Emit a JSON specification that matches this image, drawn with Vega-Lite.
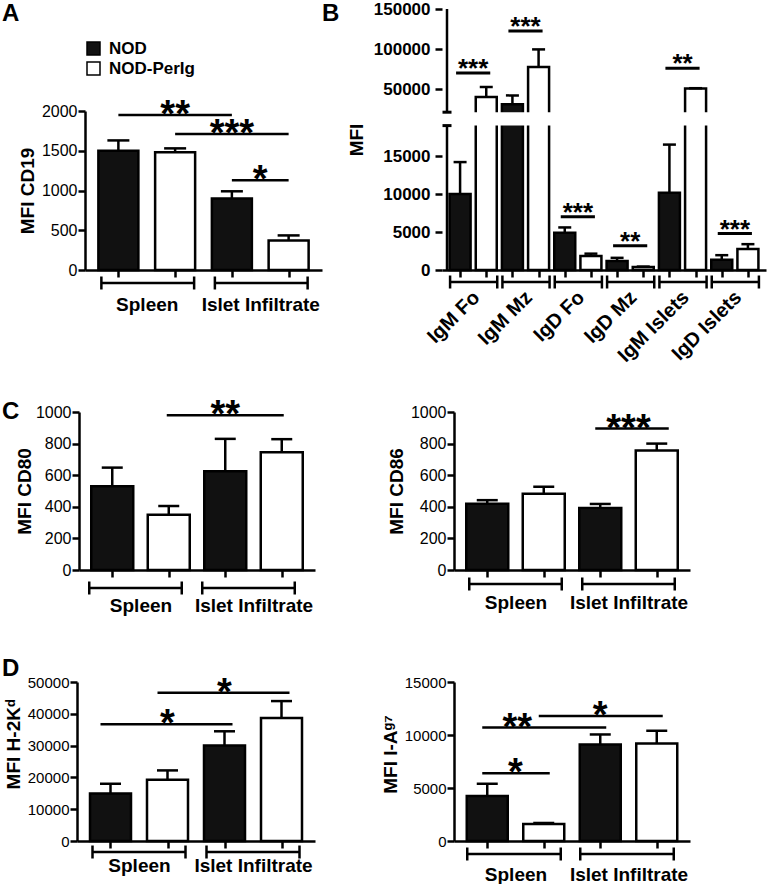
{
  "$schema": "https://vega.github.io/schema/vega-lite/v6.json",
  "background": "white",
  "padding": {"left": 2, "top": 0, "right": 0, "bottom": 0},
  "config": {
    "font": "Liberation Sans",
    "view": {"stroke": null},
    "axis": {"domainColor": "black", "domainWidth": 2.5, "tickColor": "black", "tickWidth": 2.5, "tickSize": 7, "labelColor": "black", "labelFontSize": 16, "labelPadding": 1, "titleColor": "black", "titleFontSize": 19, "titleFontWeight": "bold", "titlePadding": 4, "grid": false, "labelOverlap": false, "labelBound": false, "labelFlush": false},
    "title": {"fontSize": 24, "fontWeight": "bold", "anchor": "start", "frame": "group", "color": "black", "offset": 0}
  },
  "datasets": {
    "a": [
      {"pos": 1, "group": "Spleen", "strain": "NOD", "mfi": 1500, "err": 1630},
      {"pos": 2, "group": "Spleen", "strain": "NOD-PerIg", "mfi": 1480, "err": 1530},
      {"pos": 3, "group": "Islet Infiltrate", "strain": "NOD", "mfi": 900, "err": 990},
      {"pos": 4, "group": "Islet Infiltrate", "strain": "NOD-PerIg", "mfi": 370, "err": 435}
    ],
    "aSig": [
      {"from": 1, "to": 3, "y": 1950, "stars": "**"},
      {"from": 2, "to": 4, "y": 1710, "stars": "***"},
      {"from": 3, "to": 4, "y": 1130, "stars": "*"}
    ],
    "b": [
      {"pos": 1, "group": "IgM Fo", "strain": "NOD", "mfi": 10000, "err": 14200},
      {"pos": 2, "group": "IgM Fo", "strain": "NOD-PerIg", "mfi": 40000, "err": 52500},
      {"pos": 3, "group": "IgM Mz", "strain": "NOD", "mfi": 30800, "err": 42000},
      {"pos": 4, "group": "IgM Mz", "strain": "NOD-PerIg", "mfi": 77500, "err": 99500},
      {"pos": 5, "group": "IgD Fo", "strain": "NOD", "mfi": 4900, "err": 5600},
      {"pos": 6, "group": "IgD Fo", "strain": "NOD-PerIg", "mfi": 1850, "err": 2150},
      {"pos": 7, "group": "IgD Mz", "strain": "NOD", "mfi": 1200, "err": 1600},
      {"pos": 8, "group": "IgD Mz", "strain": "NOD-PerIg", "mfi": 380, "err": 450},
      {"pos": 9, "group": "IgM Islets", "strain": "NOD", "mfi": 10150, "err": 16500},
      {"pos": 10, "group": "IgM Islets", "strain": "NOD-PerIg", "mfi": 50500, "err": 51000},
      {"pos": 11, "group": "IgD Islets", "strain": "NOD", "mfi": 1350, "err": 1950},
      {"pos": 12, "group": "IgD Islets", "strain": "NOD-PerIg", "mfi": 2750, "err": 3400}
    ],
    "bSig": [
      {"from": 1, "to": 2, "y": 70000, "stars": "***"},
      {"from": 3, "to": 4, "y": 122500, "stars": "***"},
      {"from": 5, "to": 6, "y": 7000, "stars": "***"},
      {"from": 7, "to": 8, "y": 3200, "stars": "**"},
      {"from": 9, "to": 10, "y": 76000, "stars": "**"},
      {"from": 11, "to": 12, "y": 4800, "stars": "***"}
    ],
    "c80": [
      {"pos": 1, "group": "Spleen", "strain": "NOD", "mfi": 530, "err": 648},
      {"pos": 2, "group": "Spleen", "strain": "NOD-PerIg", "mfi": 350, "err": 405},
      {"pos": 3, "group": "Islet Infiltrate", "strain": "NOD", "mfi": 625, "err": 830},
      {"pos": 4, "group": "Islet Infiltrate", "strain": "NOD-PerIg", "mfi": 745, "err": 828}
    ],
    "c80Sig": [{"from": 2, "to": 4, "y": 979, "stars": "**"}],
    "c86": [
      {"pos": 1, "group": "Spleen", "strain": "NOD", "mfi": 420, "err": 442},
      {"pos": 2, "group": "Spleen", "strain": "NOD-PerIg", "mfi": 483, "err": 527},
      {"pos": 3, "group": "Islet Infiltrate", "strain": "NOD", "mfi": 393, "err": 418},
      {"pos": 4, "group": "Islet Infiltrate", "strain": "NOD-PerIg", "mfi": 757, "err": 800}
    ],
    "c86Sig": [{"from": 3, "to": 4, "y": 895, "stars": "***"}],
    "d2k": [
      {"pos": 1, "group": "Spleen", "strain": "NOD", "mfi": 14900, "err": 18000},
      {"pos": 2, "group": "Spleen", "strain": "NOD-PerIg", "mfi": 19300, "err": 22200},
      {"pos": 3, "group": "Islet Infiltrate", "strain": "NOD", "mfi": 30000, "err": 34500},
      {"pos": 4, "group": "Islet Infiltrate", "strain": "NOD-PerIg", "mfi": 38700, "err": 44000}
    ],
    "d2kSig": [
      {"from": 1, "to": 3, "y": 36700, "stars": "*"},
      {"from": 2, "to": 4, "y": 46600, "stars": "*"}
    ],
    "dia": [
      {"pos": 1, "group": "Spleen", "strain": "NOD", "mfi": 4250, "err": 5400},
      {"pos": 2, "group": "Spleen", "strain": "NOD-PerIg", "mfi": 1600, "err": 1700},
      {"pos": 3, "group": "Islet Infiltrate", "strain": "NOD", "mfi": 9100, "err": 10050},
      {"pos": 4, "group": "Islet Infiltrate", "strain": "NOD-PerIg", "mfi": 9200, "err": 10400}
    ],
    "diaSig": [
      {"from": 1, "to": 2, "y": 6400, "stars": "*"},
      {"from": 1, "to": 3, "y": 10700, "stars": "**"},
      {"from": 2, "to": 4, "y": 11800, "stars": "*"}
    ]
  },
  "resolve": {"scale": {"fill": "independent"}, "legend": {"fill": "independent"}},
  "bounds": "flush",
  "columns": 2,
  "spacing": {"row": 112, "column": 132},
  "concat": [
    {
      "width": 245, "height": 261,
      "title": {"text": "A", "dx": -75, "dy": 21},
      "data": {"name": "a"},
      "layer": [
        {
          "mark": {"type": "bar", "orient": "vertical", "width": 40, "stroke": "black", "strokeWidth": 2.5},
          "encoding": {
            "x": {"field": "pos", "type": "quantitative", "scale": {"domain": [0.5, 4.5], "range": [8, 245], "nice": false, "zero": false},
              "axis": {"values": [1, 1.5, 2, 3, 3.5, 4], "tickCount": 50, "title": null, "labelExpr": "datum.value == 1.5 ? 'Spleen' : (datum.value == 3.5 ? 'Islet Infiltrate' : '')", "tickOpacity": {"condition": {"test": "datum.value % 1 != 0", "value": 0}, "value": 1}, "labelFontSize": 19, "labelFontWeight": "bold", "labelPadding": 18}},
            "y": {"field": "mfi", "type": "quantitative", "scale": {"domain": [0, 2000], "range": [261, 102], "nice": false}, "axis": {"values": [0, 500, 1000, 1500, 2000], "tickCount": 50, "format": "d", "title": "MFI CD19", "offset": -8}},
            "fill": {"field": "strain", "type": "nominal", "scale": {"domain": ["NOD", "NOD-PerIg"], "range": ["#111111", "#ffffff"]},
              "legend": {"orient": "none", "legendX": 8, "legendY": 31, "title": null, "symbolType": "square", "symbolSize": 169, "symbolStrokeColor": "black", "symbolStrokeWidth": 1.5, "labelFontSize": 17, "labelFontWeight": "bold", "labelColor": "black", "labelOffset": 7, "rowPadding": 1, "direction": "vertical"}}
          }
        },
        {"mark": {"type": "rule", "strokeWidth": 2.5, "color": "black"}, "encoding": {"x": {"field": "pos", "type": "quantitative"}, "y": {"field": "mfi", "type": "quantitative"}, "y2": {"field": "err"}}},
        {"mark": {"type": "tick", "orient": "horizontal", "size": 22, "thickness": 2.5, "color": "black", "opacity": 1}, "encoding": {"x": {"field": "pos", "type": "quantitative"}, "y": {"field": "err", "type": "quantitative"}}},
        {"mark": {"type": "rule", "strokeWidth": 2.5, "color": "black", "xOffset": -17, "x2Offset": 19, "yOffset": 13}, "encoding": {"x": {"field": "pos", "aggregate": "min", "type": "quantitative"}, "x2": {"field": "pos", "aggregate": "max"}, "y": {"datum": 0}, "detail": {"field": "group"}}},
        {"mark": {"type": "tick", "orient": "vertical", "size": 13, "thickness": 2.5, "color": "black", "opacity": 1, "xOffset": -17, "yOffset": 13}, "encoding": {"x": {"field": "pos", "aggregate": "min", "type": "quantitative"}, "y": {"datum": 0}, "detail": {"field": "group"}}},
        {"mark": {"type": "tick", "orient": "vertical", "size": 13, "thickness": 2.5, "color": "black", "opacity": 1, "xOffset": 19, "yOffset": 13}, "encoding": {"x": {"field": "pos", "aggregate": "max", "type": "quantitative"}, "y": {"datum": 0}, "detail": {"field": "group"}}},
        {"data": {"name": "aSig"}, "mark": {"type": "rule", "strokeWidth": 2.5, "color": "black"}, "encoding": {"x": {"field": "from", "type": "quantitative"}, "x2": {"field": "to"}, "y": {"field": "y", "type": "quantitative"}}},
        {"data": {"name": "aSig"}, "transform": [{"fold": ["from", "to"]}], "mark": {"type": "text", "fontSize": 38, "fontWeight": "bold", "baseline": "alphabetic", "dy": 12, "color": "black"}, "encoding": {"x": {"field": "value", "aggregate": "mean", "type": "quantitative"}, "y": {"field": "y", "type": "quantitative"}, "text": {"field": "stars"}}}
      ]
    },
    {
      "width": 313, "height": 261,
      "title": {"text": "B", "dx": -132, "dy": 30},
      "data": {"name": "b"},
      "layer": [
        {
          "mark": {"type": "bar", "orient": "vertical", "width": 21, "stroke": "black", "strokeWidth": 2.5},
          "encoding": {
            "x": {"field": "pos", "type": "quantitative", "scale": {"domain": [0.5, 12.5], "range": [-12, 312], "nice": false, "zero": false},
              "axis": {"values": [1, 1.5, 2, 3, 3.5, 4, 5, 5.5, 6, 7, 7.5, 8, 9, 9.5, 10, 11, 11.5, 12], "tickCount": 50, "title": null, "labelExpr": "datum.value % 1 == 0 ? '' : ['IgM Fo','IgM Mz','IgD Fo','IgD Mz','IgM Islets','IgD Islets'][floor(datum.value / 2)]", "tickOpacity": {"condition": {"test": "datum.value % 1 != 0", "value": 0}, "value": 1}, "labelAngle": -45, "labelAlign": "right", "labelBaseline": "middle", "labelFontSize": 20, "labelFontWeight": "bold", "labelPadding": 17, "labelOffset": 3}},
            "y": {"field": "mfi", "type": "quantitative", "scale": {"domain": [0, 19000, 21000, 150000], "range": [261, 116.6, 103.2, 0], "nice": false, "zero": false}, "axis": {"values": [0, 5000, 10000, 15000, 50000, 100000, 150000], "tickCount": 50, "format": "d", "title": "MFI", "domain": false, "offset": 12, "labelFontSize": 17, "labelFontWeight": "bold", "labelPadding": 5, "titlePadding": 7}},
            "fill": {"field": "strain", "type": "nominal", "scale": {"domain": ["NOD", "NOD-PerIg"], "range": ["#111111", "#ffffff"]}, "legend": null}
          }
        },
        {"mark": {"type": "rule", "strokeWidth": 2.5, "color": "black"}, "encoding": {"x": {"field": "pos", "type": "quantitative"}, "y": {"field": "mfi", "type": "quantitative"}, "y2": {"field": "err"}}},
        {"mark": {"type": "tick", "orient": "horizontal", "size": 13, "thickness": 2.5, "color": "black", "opacity": 1}, "encoding": {"x": {"field": "pos", "type": "quantitative"}, "y": {"field": "err", "type": "quantitative"}}},
        {"data": {"values": [{}]}, "mark": {"type": "rect", "fill": "white"}, "encoding": {"x": {"datum": 0.3}, "x2": {"datum": 12.6}, "y": {"datum": 19000}, "y2": {"datum": 21000}}},
        {"data": {"values": [{}]}, "mark": {"type": "rule", "strokeWidth": 2.5, "color": "black"}, "encoding": {"x": {"datum": 0.5}, "y": {"datum": 0}, "y2": {"datum": 19000}}},
        {"data": {"values": [{}]}, "mark": {"type": "rule", "strokeWidth": 2.5, "color": "black"}, "encoding": {"x": {"datum": 0.5}, "y": {"datum": 21000}, "y2": {"datum": 150000}}},
        {"data": {"values": [{}]}, "mark": {"type": "tick", "orient": "horizontal", "size": 9, "thickness": 3, "color": "black", "opacity": 1}, "encoding": {"x": {"datum": 0.5}, "y": {"datum": 19000}}},
        {"data": {"values": [{}]}, "mark": {"type": "tick", "orient": "horizontal", "size": 9, "thickness": 3, "color": "black", "opacity": 1}, "encoding": {"x": {"datum": 0.5}, "y": {"datum": 21000}}},
        {"mark": {"type": "rule", "strokeWidth": 2.5, "color": "black", "xOffset": -10, "x2Offset": 11, "yOffset": 12}, "encoding": {"x": {"field": "pos", "aggregate": "min", "type": "quantitative"}, "x2": {"field": "pos", "aggregate": "max"}, "y": {"datum": 0}, "detail": {"field": "group"}}},
        {"mark": {"type": "tick", "orient": "vertical", "size": 13, "thickness": 2.5, "color": "black", "opacity": 1, "xOffset": -10, "yOffset": 12}, "encoding": {"x": {"field": "pos", "aggregate": "min", "type": "quantitative"}, "y": {"datum": 0}, "detail": {"field": "group"}}},
        {"mark": {"type": "tick", "orient": "vertical", "size": 13, "thickness": 2.5, "color": "black", "opacity": 1, "xOffset": 11, "yOffset": 12}, "encoding": {"x": {"field": "pos", "aggregate": "max", "type": "quantitative"}, "y": {"datum": 0}, "detail": {"field": "group"}}},
        {"data": {"name": "bSig"}, "mark": {"type": "rule", "strokeWidth": 3, "color": "black", "xOffset": -4, "x2Offset": 4}, "encoding": {"x": {"field": "from", "type": "quantitative"}, "x2": {"field": "to"}, "y": {"field": "y", "type": "quantitative"}}},
        {"data": {"name": "bSig"}, "transform": [{"fold": ["from", "to"]}], "mark": {"type": "text", "fontSize": 26, "fontWeight": "bold", "baseline": "alphabetic", "dy": 4, "color": "black"}, "encoding": {"x": {"field": "value", "aggregate": "mean", "type": "quantitative"}, "y": {"field": "y", "type": "quantitative"}, "text": {"field": "stars"}}}
      ]
    },
    {
      "width": 238, "height": 188,
      "title": {"text": "C", "dx": -75, "dy": 46},
      "data": {"name": "c80"},
      "layer": [
        {
          "mark": {"type": "bar", "orient": "vertical", "width": 42, "stroke": "black", "strokeWidth": 2.5},
          "encoding": {
            "x": {"field": "pos", "type": "quantitative", "scale": {"domain": [0.5, 4.5], "range": [2, 238], "nice": false, "zero": false},
              "axis": {"values": [1, 1.5, 2, 3, 3.5, 4], "tickCount": 50, "title": null, "labelExpr": "datum.value == 1.5 ? 'Spleen' : (datum.value == 3.5 ? 'Islet Infiltrate' : '')", "tickOpacity": {"condition": {"test": "datum.value % 1 != 0", "value": 0}, "value": 1}, "labelFontSize": 19, "labelFontWeight": "bold", "labelPadding": 19}},
            "y": {"field": "mfi", "type": "quantitative", "scale": {"domain": [0, 1000], "range": [188, 30], "nice": false}, "axis": {"values": [0, 200, 400, 600, 800, 1000], "tickCount": 50, "format": "d", "title": "MFI CD80", "titlePadding": 1, "offset": -2}},
            "fill": {"field": "strain", "type": "nominal", "scale": {"domain": ["NOD", "NOD-PerIg"], "range": ["#111111", "#ffffff"]}, "legend": null}
          }
        },
        {"mark": {"type": "rule", "strokeWidth": 2.5, "color": "black"}, "encoding": {"x": {"field": "pos", "type": "quantitative"}, "y": {"field": "mfi", "type": "quantitative"}, "y2": {"field": "err"}}},
        {"mark": {"type": "tick", "orient": "horizontal", "size": 21, "thickness": 2.5, "color": "black", "opacity": 1}, "encoding": {"x": {"field": "pos", "type": "quantitative"}, "y": {"field": "err", "type": "quantitative"}}},
        {"mark": {"type": "rule", "strokeWidth": 2.5, "color": "black", "xOffset": -23, "x2Offset": 13, "yOffset": 18}, "encoding": {"x": {"field": "pos", "aggregate": "min", "type": "quantitative"}, "x2": {"field": "pos", "aggregate": "max"}, "y": {"datum": 0}, "detail": {"field": "group"}}},
        {"mark": {"type": "tick", "orient": "vertical", "size": 13, "thickness": 2.5, "color": "black", "opacity": 1, "xOffset": -23, "yOffset": 18}, "encoding": {"x": {"field": "pos", "aggregate": "min", "type": "quantitative"}, "y": {"datum": 0}, "detail": {"field": "group"}}},
        {"mark": {"type": "tick", "orient": "vertical", "size": 13, "thickness": 2.5, "color": "black", "opacity": 1, "xOffset": 13, "yOffset": 18}, "encoding": {"x": {"field": "pos", "aggregate": "max", "type": "quantitative"}, "y": {"datum": 0}, "detail": {"field": "group"}}},
        {"data": {"name": "c80Sig"}, "mark": {"type": "rule", "strokeWidth": 2.5, "color": "black", "xOffset": -2, "x2Offset": 2}, "encoding": {"x": {"field": "from", "type": "quantitative"}, "x2": {"field": "to"}, "y": {"field": "y", "type": "quantitative"}}},
        {"data": {"name": "c80Sig"}, "transform": [{"fold": ["from", "to"]}], "mark": {"type": "text", "fontSize": 38, "fontWeight": "bold", "baseline": "alphabetic", "dy": 12, "color": "black"}, "encoding": {"x": {"field": "value", "aggregate": "mean", "type": "quantitative"}, "y": {"field": "y", "type": "quantitative"}, "text": {"field": "stars"}}}
      ]
    },
    {
      "width": 236, "height": 188,
      "data": {"name": "c86"},
      "layer": [
        {
          "mark": {"type": "bar", "orient": "vertical", "width": 42, "stroke": "black", "strokeWidth": 2.5},
          "encoding": {
            "x": {"field": "pos", "type": "quantitative", "scale": {"domain": [0.5, 4.5], "nice": false, "zero": false},
              "axis": {"values": [1, 1.5, 2, 3, 3.5, 4], "tickCount": 50, "title": null, "labelExpr": "datum.value == 1.5 ? 'Spleen' : (datum.value == 3.5 ? 'Islet Infiltrate' : '')", "tickOpacity": {"condition": {"test": "datum.value % 1 != 0", "value": 0}, "value": 1}, "labelFontSize": 19, "labelFontWeight": "bold", "labelPadding": 16}},
            "y": {"field": "mfi", "type": "quantitative", "scale": {"domain": [0, 1000], "range": [188, 30], "nice": false}, "axis": {"values": [0, 200, 400, 600, 800, 1000], "tickCount": 50, "format": "d", "title": "MFI CD86"}},
            "fill": {"field": "strain", "type": "nominal", "scale": {"domain": ["NOD", "NOD-PerIg"], "range": ["#111111", "#ffffff"]}, "legend": null}
          }
        },
        {"mark": {"type": "rule", "strokeWidth": 2.5, "color": "black"}, "encoding": {"x": {"field": "pos", "type": "quantitative"}, "y": {"field": "mfi", "type": "quantitative"}, "y2": {"field": "err"}}},
        {"mark": {"type": "tick", "orient": "horizontal", "size": 21, "thickness": 2.5, "color": "black", "opacity": 1}, "encoding": {"x": {"field": "pos", "type": "quantitative"}, "y": {"field": "err", "type": "quantitative"}}},
        {"mark": {"type": "rule", "strokeWidth": 2.5, "color": "black", "xOffset": -18, "x2Offset": 18, "yOffset": 14}, "encoding": {"x": {"field": "pos", "aggregate": "min", "type": "quantitative"}, "x2": {"field": "pos", "aggregate": "max"}, "y": {"datum": 0}, "detail": {"field": "group"}}},
        {"mark": {"type": "tick", "orient": "vertical", "size": 13, "thickness": 2.5, "color": "black", "opacity": 1, "xOffset": -18, "yOffset": 14}, "encoding": {"x": {"field": "pos", "aggregate": "min", "type": "quantitative"}, "y": {"datum": 0}, "detail": {"field": "group"}}},
        {"mark": {"type": "tick", "orient": "vertical", "size": 13, "thickness": 2.5, "color": "black", "opacity": 1, "xOffset": 18, "yOffset": 14}, "encoding": {"x": {"field": "pos", "aggregate": "max", "type": "quantitative"}, "y": {"datum": 0}, "detail": {"field": "group"}}},
        {"data": {"name": "c86Sig"}, "mark": {"type": "rule", "strokeWidth": 2.5, "color": "black", "xOffset": -5, "x2Offset": 12}, "encoding": {"x": {"field": "from", "type": "quantitative"}, "x2": {"field": "to"}, "y": {"field": "y", "type": "quantitative"}}},
        {"data": {"name": "c86Sig"}, "transform": [{"fold": ["from", "to"]}], "mark": {"type": "text", "fontSize": 38, "fontWeight": "bold", "baseline": "alphabetic", "dy": 12, "color": "black"}, "encoding": {"x": {"field": "value", "aggregate": "mean", "type": "quantitative"}, "y": {"field": "y", "type": "quantitative"}, "text": {"field": "stars"}}}
      ]
    },
    {
      "width": 238, "height": 159,
      "title": {"text": "D", "dx": -75, "dy": 10},
      "data": {"name": "d2k"},
      "layer": [
        {
          "mark": {"type": "bar", "orient": "vertical", "width": 41, "stroke": "black", "strokeWidth": 2.5},
          "encoding": {
            "x": {"field": "pos", "type": "quantitative", "scale": {"domain": [0.5, 4.5], "nice": false, "zero": false},
              "axis": {"values": [1, 1.5, 2, 3, 3.5, 4], "tickCount": 50, "title": null, "labelExpr": "datum.value == 1.5 ? 'Spleen' : (datum.value == 3.5 ? 'Islet Infiltrate' : '')", "tickOpacity": {"condition": {"test": "datum.value % 1 != 0", "value": 0}, "value": 1}, "labelFontSize": 19, "labelFontWeight": "bold", "labelPadding": 8}},
            "y": {"field": "mfi", "type": "quantitative", "scale": {"domain": [0, 50000], "nice": false}, "axis": {"values": [0, 10000, 20000, 30000, 40000, 50000], "tickCount": 50, "format": "d", "title": "MFI H-2Kᵈ", "labelFontSize": 15, "titleY": 62}},
            "fill": {"field": "strain", "type": "nominal", "scale": {"domain": ["NOD", "NOD-PerIg"], "range": ["#111111", "#ffffff"]}, "legend": null}
          }
        },
        {"mark": {"type": "rule", "strokeWidth": 2.5, "color": "black"}, "encoding": {"x": {"field": "pos", "type": "quantitative"}, "y": {"field": "mfi", "type": "quantitative"}, "y2": {"field": "err"}}},
        {"mark": {"type": "tick", "orient": "horizontal", "size": 21, "thickness": 2.5, "color": "black", "opacity": 1}, "encoding": {"x": {"field": "pos", "type": "quantitative"}, "y": {"field": "err", "type": "quantitative"}}},
        {"mark": {"type": "rule", "strokeWidth": 2.5, "color": "black", "xOffset": -18, "x2Offset": 18, "yOffset": 11}, "encoding": {"x": {"field": "pos", "aggregate": "min", "type": "quantitative"}, "x2": {"field": "pos", "aggregate": "max"}, "y": {"datum": 0}, "detail": {"field": "group"}}},
        {"mark": {"type": "tick", "orient": "vertical", "size": 13, "thickness": 2.5, "color": "black", "opacity": 1, "xOffset": -18, "yOffset": 11}, "encoding": {"x": {"field": "pos", "aggregate": "min", "type": "quantitative"}, "y": {"datum": 0}, "detail": {"field": "group"}}},
        {"mark": {"type": "tick", "orient": "vertical", "size": 13, "thickness": 2.5, "color": "black", "opacity": 1, "xOffset": 18, "yOffset": 11}, "encoding": {"x": {"field": "pos", "aggregate": "max", "type": "quantitative"}, "y": {"datum": 0}, "detail": {"field": "group"}}},
        {"data": {"name": "d2kSig"}, "mark": {"type": "rule", "strokeWidth": 2.5, "color": "black", "xOffset": -10, "x2Offset": 8}, "encoding": {"x": {"field": "from", "type": "quantitative"}, "x2": {"field": "to"}, "y": {"field": "y", "type": "quantitative"}}},
        {"data": {"name": "d2kSig"}, "transform": [{"fold": ["from", "to"]}], "mark": {"type": "text", "fontSize": 38, "fontWeight": "bold", "baseline": "alphabetic", "dy": 12, "color": "black"}, "encoding": {"x": {"field": "value", "aggregate": "mean", "type": "quantitative"}, "y": {"field": "y", "type": "quantitative"}, "text": {"field": "stars"}}}
      ]
    },
    {
      "width": 236, "height": 159,
      "data": {"name": "dia"},
      "layer": [
        {
          "mark": {"type": "bar", "orient": "vertical", "width": 41, "stroke": "black", "strokeWidth": 2.5},
          "encoding": {
            "x": {"field": "pos", "type": "quantitative", "scale": {"domain": [0.5, 4.5], "nice": false, "zero": false},
              "axis": {"values": [1, 1.5, 2, 3, 3.5, 4], "tickCount": 50, "title": null, "labelExpr": "datum.value == 1.5 ? 'Spleen' : (datum.value == 3.5 ? 'Islet Infiltrate' : '')", "tickOpacity": {"condition": {"test": "datum.value % 1 != 0", "value": 0}, "value": 1}, "labelFontSize": 19, "labelFontWeight": "bold", "labelPadding": 17}},
            "y": {"field": "mfi", "type": "quantitative", "scale": {"domain": [0, 15000], "nice": false}, "axis": {"values": [0, 5000, 10000, 15000], "tickCount": 50, "format": "d", "title": "MFI I-Aᵍ⁷", "labelFontSize": 15, "titleY": 72}},
            "fill": {"field": "strain", "type": "nominal", "scale": {"domain": ["NOD", "NOD-PerIg"], "range": ["#111111", "#ffffff"]}, "legend": null}
          }
        },
        {"mark": {"type": "rule", "strokeWidth": 2.5, "color": "black"}, "encoding": {"x": {"field": "pos", "type": "quantitative"}, "y": {"field": "mfi", "type": "quantitative"}, "y2": {"field": "err"}}},
        {"mark": {"type": "tick", "orient": "horizontal", "size": 21, "thickness": 2.5, "color": "black", "opacity": 1}, "encoding": {"x": {"field": "pos", "type": "quantitative"}, "y": {"field": "err", "type": "quantitative"}}},
        {"mark": {"type": "rule", "strokeWidth": 2.5, "color": "black", "xOffset": -20, "x2Offset": 17, "yOffset": 13}, "encoding": {"x": {"field": "pos", "aggregate": "min", "type": "quantitative"}, "x2": {"field": "pos", "aggregate": "max"}, "y": {"datum": 0}, "detail": {"field": "group"}}},
        {"mark": {"type": "tick", "orient": "vertical", "size": 13, "thickness": 2.5, "color": "black", "opacity": 1, "xOffset": -20, "yOffset": 13}, "encoding": {"x": {"field": "pos", "aggregate": "min", "type": "quantitative"}, "y": {"datum": 0}, "detail": {"field": "group"}}},
        {"mark": {"type": "tick", "orient": "vertical", "size": 13, "thickness": 2.5, "color": "black", "opacity": 1, "xOffset": 17, "yOffset": 13}, "encoding": {"x": {"field": "pos", "aggregate": "max", "type": "quantitative"}, "y": {"datum": 0}, "detail": {"field": "group"}}},
        {"data": {"name": "diaSig"}, "mark": {"type": "rule", "strokeWidth": 2.5, "color": "black", "xOffset": -5, "x2Offset": 6}, "encoding": {"x": {"field": "from", "type": "quantitative"}, "x2": {"field": "to"}, "y": {"field": "y", "type": "quantitative"}}},
        {"data": {"name": "diaSig"}, "transform": [{"filter": "datum.stars != '**'"}, {"fold": ["from", "to"]}], "mark": {"type": "text", "fontSize": 38, "fontWeight": "bold", "baseline": "alphabetic", "dy": 12, "color": "black"}, "encoding": {"x": {"field": "value", "aggregate": "mean", "type": "quantitative"}, "y": {"field": "y", "type": "quantitative"}, "text": {"field": "stars"}}},
        {"data": {"name": "diaSig"}, "transform": [{"filter": "datum.stars == '**'"}], "mark": {"type": "text", "fontSize": 38, "fontWeight": "bold", "baseline": "alphabetic", "dy": 12, "xOffset": 30, "color": "black"}, "encoding": {"x": {"field": "from", "type": "quantitative"}, "y": {"field": "y", "type": "quantitative"}, "text": {"field": "stars"}}}
      ]
    }
  ]
}
